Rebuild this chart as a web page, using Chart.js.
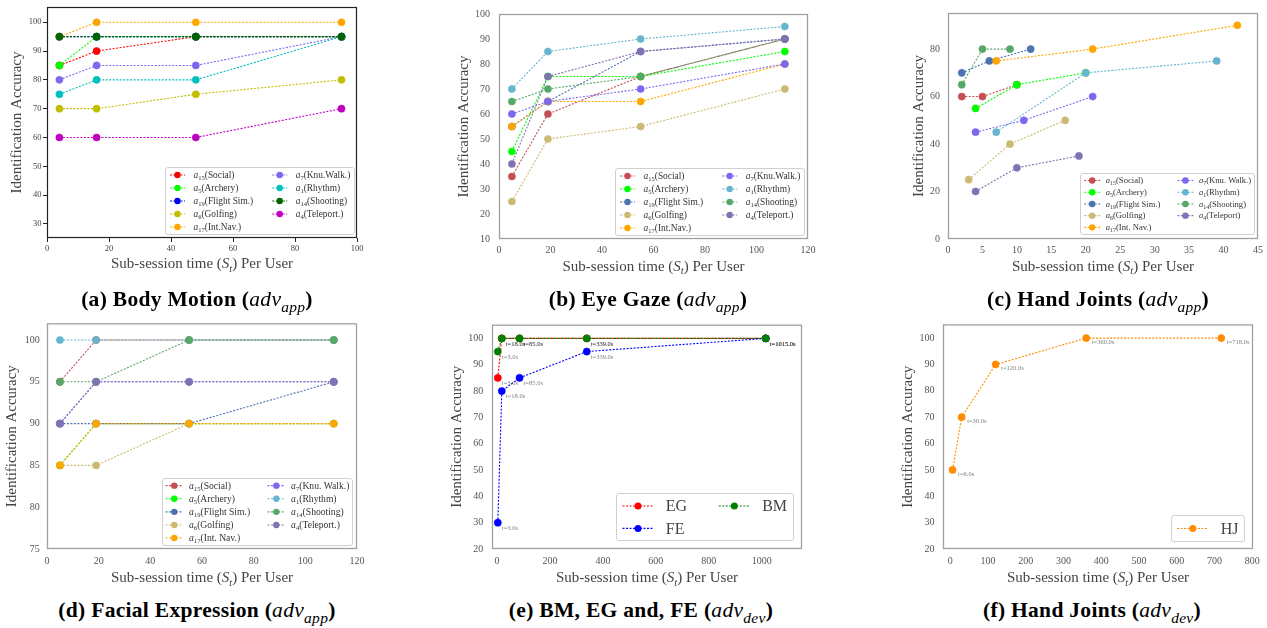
<!DOCTYPE html>
<html>
<head>
<meta charset="utf-8">
<script src="https://cdn.jsdelivr.net/npm/chart.js@4.4.1/dist/chart.umd.min.js"></script>
<style>
html,body{margin:0;padding:0;background:#fff;}
body{position:relative;width:1267px;height:628px;overflow:hidden;font-family:"Liberation Serif","DejaVu Serif",serif;}
canvas{position:absolute;}
.cap{position:absolute;transform:translate(-50%,-50%);white-space:nowrap;font-weight:bold;font-size:21.5px;letter-spacing:0.3px;line-height:1;color:#000;}
.cap i{font-weight:normal;}
.cap sub{font-size:0.72em;font-style:italic;font-weight:normal;vertical-align:-0.35em;line-height:0;}
</style>
</head>
<body>
<canvas id="ca"></canvas>
<canvas id="cb"></canvas>
<canvas id="cc"></canvas>
<canvas id="cd"></canvas>
<canvas id="ce"></canvas>
<canvas id="cf"></canvas>
<div class="cap" style="left:197px;top:300px">(a) Body Motion (<i>adv</i><sub>app</sub>)</div>
<div class="cap" style="left:648px;top:300px">(b) Eye Gaze (<i>adv</i><sub>app</sub>)</div>
<div class="cap" style="left:1098px;top:300px">(c) Hand Joints (<i>adv</i><sub>app</sub>)</div>
<div class="cap" style="left:197px;top:611px">(d) Facial Expression (<i>adv</i><sub>app</sub>)</div>
<div class="cap" style="left:641px;top:611px">(e) BM, EG and, FE (<i>adv</i><sub>dev</sub>)</div>
<div class="cap" style="left:1092px;top:611px">(f) Hand Joints (<i>adv</i><sub>dev</sub>)</div>
<script>
// ================= DATA =================
// (a) Body Motion (adv_app)
const aTimes = [4, 16, 48, 95];
const aSocial = [85, 90, 95, 95];
const aArchery = [85, 95, 95, 95];
const aFlight = [95, 95, 95, 95];
const aGolf = [70, 70, 75, 80];
const aIntNav = [95, 100, 100, 100];
const aKnuWalk = [80, 85, 85, 95];
const aRhythm = [75, 80, 80, 95];
const aShoot = [95, 95, 95, 95];
const aTeleport = [60, 60, 60, 70];
const aLabels = ["a_15(Social)", "a_5(Archery)", "a_19(Flight Sim.)", "a_6(Golfing)", "a_17(Int.Nav.)", "a_7(Knu.Walk.)", "a_1(Rhythm)", "a_14(Shooting)", "a_4(Teleport.)"];
const aXTicks = [0, 20, 40, 60, 80, 100];
const aYTicks = [30, 40, 50, 60, 70, 80, 90, 100];

// (b) Eye Gaze (adv_app)
const bTimes = [5, 19, 55, 111];
const bSocial = [35, 60, 75, 90];
const bArchery = [45, 75, 75, 85];
const bFlight = [55, 65, 85, 90];
const bGolf = [25, 50, 55, 70];
const bIntNav = [55, 65, 65, 80];
const bKnuWalk = [60, 65, 70, 80];
const bRhythm = [70, 85, 90, 95];
const bShoot = [65, 70, 75, 90];
const bTeleport = [40, 75, 85, 90];
const bLabels = ["a_15(Social)", "a_5(Archery)", "a_19(Flight Sim.)", "a_6(Golfing)", "a_17(Int.Nav.)", "a_7(Knu.Walk.)", "a_1(Rhythm)", "a_14(Shooting)", "a_4(Teleport.)"];
const bXTicks = [0, 20, 40, 60, 80, 100, 120];
const bYTicks = [10, 20, 30, 40, 50, 60, 70, 80, 90, 100];

// (c) Hand Joints (adv_app)
const cSocialX = [2, 5, 10],   cSocialY = [60, 60, 65];
const cArcheryX = [4, 10, 20], cArcheryY = [55, 65, 70];
const cFlightX = [2, 6, 12],   cFlightY = [70, 75, 80];
const cGolfX = [3, 9, 17],     cGolfY = [25, 40, 50];
const cIntNavX = [7, 21, 42],  cIntNavY = [75, 80, 90];
const cKnuWalkX = [4, 11, 21], cKnuWalkY = [45, 50, 60];
const cRhythmX = [7, 20, 39],  cRhythmY = [45, 70, 75];
const cShootX = [2, 5, 9],     cShootY = [65, 80, 80];
const cTeleportX = [4, 10, 19], cTeleportY = [20, 30, 35];
const cLabels = ["a_15(Social)", "a_5(Archery)", "a_19(Flight Sim.)", "a_6(Golfing)", "a_17(Int. Nav.)", "a_7(Knu. Walk.)", "a_1(Rhythm)", "a_14(Shooting)", "a_4(Teleport)"];
const cXTicks = [0, 5, 10, 15, 20, 25, 30, 35, 40, 45];
const cYTicks = [0, 20, 40, 60, 80];

// (d) Facial Expression (adv_app)
const dTimes = [5, 19, 55, 111];
const dSocial = [95, 100, 100, 100];
const dArchery = [85, 90, 90, 90];
const dFlight = [90, 90, 90, 95];
const dGolf = [85, 85, 90, 90];
const dIntNav = [85, 90, 90, 90];
const dKnuWalk = [90, 95, 95, 95];
const dRhythm = [100, 100, 100, 100];
const dShoot = [95, 95, 100, 100];
const dTeleport = [90, 95, 95, 95];
const dLabels = ["a_15(Social)", "a_5(Archery)", "a_19(Flight Sim.)", "a_6(Golfing)", "a_17(Int. Nav.)", "a_7(Knu. Walk.)", "a_1(Rhythm)", "a_14(Shooting)", "a_4(Teleport.)"];
const dXTicks = [0, 20, 40, 60, 80, 100, 120];
const dYTicks = [75, 80, 85, 90, 95, 100];

// (e) BM, EG and FE (adv_dev)
const eTimes = [3, 18, 85, 339, 1015];
const eEG = [85, 100, 100, 100, 100];
const eFE = [30, 80, 85, 95, 100];
const eBM = [95, 100, 100, 100, 100];
const eLabels = ["EG", "FE", "BM"];
const eXTicks = [0, 200, 400, 600, 800, 1000];
const eYTicks = [20, 30, 40, 50, 60, 70, 80, 90, 100];

// (f) Hand Joints (adv_dev)
const fTimes = [6, 30, 120, 360, 718];
const fHJ = [50, 70, 90, 100, 100];
const fLabels = ["HJ"];
const fXTicks = [0, 100, 200, 300, 400, 500, 600, 700, 800];
const fYTicks = [20, 30, 40, 50, 60, 70, 80, 90, 100];

// ================= STYLE =================
const FONT = '"Liberation Serif", "DejaVu Serif", serif';
const BASE_COLORS = ['#ff0000', '#00ff00', '#0000ff', '#bfbf00', '#ffa500', '#7b68ee', '#00bfbf', '#006400', '#bf00bf'];
const DEEP_COLORS = ['#c44e52', '#00ff00', '#4c72b0', '#ccb974', '#ffa500', '#7b68ee', '#64b5cd', '#55a868', '#8172b2'];
const E_COLORS = ['#ff0000', '#0000ff', '#008000'];
const F_COLORS = ['#ff8c00'];
Chart.defaults.font.family = FONT;

function series(xs, ys) { return xs.map((x, i) => ({ x: x, y: ys[i] })); }

function makeDatasets(labels, xsList, ysList, colors, pr) {
  return labels.map((lab, i) => ({
    label: lab,
    data: series(xsList[i], ysList[i]),
    borderColor: colors[i], backgroundColor: colors[i],
    pointBackgroundColor: colors[i], pointBorderColor: colors[i],
    borderWidth: 1.1, borderDash: [2, 1.5],
    pointRadius: pr, pointHoverRadius: pr, pointBorderWidth: 0.5,
    tension: 0, fill: false, order: -i
  }));
}

function richParts(label) {
  const m = /^([A-Za-z])_(\d+)(.*)$/.exec(label);
  if (!m) return [{ t: label }];
  return [{ t: m[1], it: true }, { t: m[2], sub: true }, { t: m[3] }];
}
function fontFor(p, size) {
  const s = p.sub ? size * 0.7 : size;
  return (p.it ? 'italic ' : '') + s + 'px ' + FONT;
}
function measureRich(ctx, parts, size) {
  let w = 0;
  parts.forEach(p => { ctx.font = fontFor(p, size); w += ctx.measureText(p.t).width; });
  return w;
}
function drawRich(ctx, parts, x, base, size) {
  ctx.textBaseline = 'alphabetic';
  ctx.textAlign = 'left';
  parts.forEach(p => {
    ctx.font = fontFor(p, size);
    ctx.fillText(p.t, x, base + (p.sub ? size * 0.22 : 0));
    x += ctx.measureText(p.t).width;
  });
}
const X_TITLE = [{ t: 'Sub-session time (' }, { t: 'S', it: true }, { t: 't', it: true, sub: true }, { t: ') Per User' }];
const Y_TITLE = 'Identification Accuracy';

function roundRect(ctx, x, y, w, h, r) {
  ctx.beginPath();
  ctx.moveTo(x + r, y); ctx.lineTo(x + w - r, y); ctx.arcTo(x + w, y, x + w, y + r, r);
  ctx.lineTo(x + w, y + h - r); ctx.arcTo(x + w, y + h, x + w - r, y + h, r);
  ctx.lineTo(x + r, y + h); ctx.arcTo(x, y + h, x, y + h - r, r);
  ctx.lineTo(x, y + r); ctx.arcTo(x, y, x + r, y, r);
  ctx.closePath();
}

function drawLegend(chart, L) {
  const ctx = chart.ctx, a = chart.chartArea, ds = chart.data.datasets;
  const n = ds.length, ncol = L.ncol, nrows = Math.ceil(n / ncol);
  const colW = [];
  for (let c = 0; c < ncol; c++) {
    let m = 0;
    for (let r = 0; r < nrows; r++) {
      const i = c * nrows + r;
      if (i < n) m = Math.max(m, measureRich(ctx, richParts(ds[i].label), L.fs));
    }
    colW.push(m);
  }
  const boxW = L.padX * 2 + colW.reduce((s, w) => s + L.hl + L.htp + w, 0) + L.cs * (ncol - 1);
  const boxH = nrows * L.rowH + L.padY * 2;
  const bx = Math.round(a.right - L.bapX - boxW) + 0.5, by = Math.round(a.bottom - L.bapY - boxH) + 0.5;
  ctx.save();
  roundRect(ctx, bx, by, Math.round(boxW), Math.round(boxH), 2.5);
  ctx.fillStyle = 'rgba(255,255,255,0.85)'; ctx.fill();
  ctx.strokeStyle = '#d0d0d0'; ctx.lineWidth = 1; ctx.stroke();
  let cx = bx + L.padX;
  for (let c = 0; c < ncol; c++) {
    for (let r = 0; r < nrows; r++) {
      const i = c * nrows + r;
      if (i >= n) continue;
      const y = by + L.padY + (r + 0.5) * L.rowH;
      ctx.strokeStyle = ds[i].borderColor; ctx.lineWidth = ds[i].borderWidth;
      ctx.setLineDash(ds[i].borderDash);
      ctx.beginPath(); ctx.moveTo(cx, y); ctx.lineTo(cx + L.hl, y); ctx.stroke();
      ctx.setLineDash([]);
      ctx.beginPath(); ctx.arc(cx + L.hl / 2, y, L.mr, 0, 2 * Math.PI);
      ctx.fillStyle = ds[i].pointBackgroundColor; ctx.fill();
      ctx.fillStyle = L.color;
      drawRich(ctx, richParts(ds[i].label), cx + L.hl + L.htp, y + L.fs * 0.33, L.fs);
    }
    cx += L.hl + L.htp + colW[c] + L.cs;
  }
  ctx.restore();
}

const panelPlugin = {
  id: 'panel',
  afterDatasetsDraw(chart, args, o) {
    const ctx = chart.ctx, a = chart.chartArea;
    ctx.save();
    // frame
    ctx.strokeStyle = o.frameColor; ctx.lineWidth = o.frameWidth;
    ctx.strokeRect(a.left + 0.5, a.top + 0.5, a.right - a.left - 1, a.bottom - a.top - 1);
    // point annotations
    if (o.annot) {
      ctx.font = o.annot.size + 'px ' + FONT;
      ctx.fillStyle = o.annot.color;
      ctx.textAlign = 'left'; ctx.textBaseline = 'middle';
      chart.data.datasets.forEach((ds, i) => {
        const meta = chart.getDatasetMeta(i);
        meta.data.forEach((pt, j) => {
          ctx.fillText('t=' + ds.data[j].x.toFixed(1) + 's', pt.x + o.annot.dx, pt.y + o.annot.dy);
        });
      });
    }
    // axis titles
    ctx.fillStyle = o.titleColor;
    ctx.font = o.titleSize + 'px ' + FONT;
    ctx.save();
    ctx.translate(a.left - o.yTitleOff, (a.top + a.bottom) / 2);
    ctx.rotate(-Math.PI / 2);
    ctx.textAlign = 'center'; ctx.textBaseline = 'middle';
    ctx.fillText(Y_TITLE, 0, 0);
    ctx.restore();
    const w = measureRich(ctx, X_TITLE, o.titleSize);
    drawRich(ctx, X_TITLE, (a.left + a.right) / 2 - w / 2, a.bottom + o.xTitleOff + o.titleSize * 0.33, o.titleSize);
    ctx.restore();
  },
  afterDraw(chart, args, o) {
    if (o.legend) drawLegend(chart, o.legend);
  }
};

function makePanel(id, cfg) {
  const padL = 48, padT = 8, padR = 16, axH = 44;
  const W = cfg.R - cfg.L, H = cfg.B - cfg.T;
  const cv = document.getElementById(id);
  cv.width = W + padL + padR; cv.height = H + padT + axH;
  cv.style.width = cv.width + 'px'; cv.style.height = cv.height + 'px';
  cv.style.left = (cfg.L - padL) + 'px'; cv.style.top = (cfg.T - padT) + 'px';
  const gridOn = cfg.ticksMarks;
  const grid = gridOn
    ? { display: true, drawOnChartArea: false, drawTicks: true, tickLength: 4, color: '#222', lineWidth: 1 }
    : { display: false, drawTicks: false };
  new Chart(cv, {
    type: 'line',
    data: { datasets: cfg.datasets },
    options: {
      responsive: false, animation: false, devicePixelRatio: 1,
      events: [],
      layout: { padding: { left: 0, top: padT, right: padR, bottom: 0 } },
      plugins: { legend: { display: false }, tooltip: { enabled: false }, panel: cfg.panel },
      scales: {
        x: {
          type: 'linear', min: cfg.xMin, max: cfg.xMax,
          afterFit: s => { s.height = axH; },
          afterBuildTicks: s => { s.ticks = cfg.xTicks.map(v => ({ value: v })); },
          ticks: { font: { size: cfg.tickSize, family: FONT }, color: cfg.tickColor, padding: cfg.xPad, maxRotation: 0, autoSkip: false, callback: v => String(v) },
          grid: grid, border: { display: false }
        },
        y: {
          type: 'linear', min: cfg.yMin, max: cfg.yMax,
          afterFit: s => { s.width = padL; },
          afterBuildTicks: s => { s.ticks = cfg.yTicks.map(v => ({ value: v })); },
          ticks: { font: { size: cfg.tickSize, family: FONT }, color: cfg.tickColor, padding: cfg.yPad, autoSkip: false, callback: v => String(v) },
          grid: grid, border: { display: false }
        }
      }
    },
    plugins: [panelPlugin]
  });
}

const smallLegend = (o) => Object.assign({ ncol: 2, fs: 9.4, rowH: 13, padX: 4.5, padY: 1, hl: 15, htp: 8.5, cs: 19, bapX: 3.5, bapY: 4, mr: 3.2, color: '#333' }, o);

// (a)
makePanel('ca', {
  L: 47, R: 357, T: 7, B: 238, xMin: 0, xMax: 100, yMin: 25.1, yMax: 105.3,
  xTicks: aXTicks, yTicks: aYTicks, tickSize: 8.5, tickColor: '#444', xPad: 1.5, yPad: 1.5, ticksMarks: true,
  datasets: makeDatasets(aLabels, Array(9).fill(aTimes),
    [aSocial, aArchery, aFlight, aGolf, aIntNav, aKnuWalk, aRhythm, aShoot, aTeleport], BASE_COLORS, 3.6),
  panel: { frameColor: '#222', frameWidth: 1.2, titleColor: '#444', titleSize: 15, yTitleOff: 29.5, xTitleOff: 25.3,
    legend: smallLegend({ bapX: 3, bapY: 4 }) }
});
// (b)
makePanel('cb', {
  L: 499, R: 808, T: 7, B: 239, xMin: 0, xMax: 120, yMin: 10, yMax: 100,
  xTicks: bXTicks, yTicks: bYTicks, tickSize: 10, tickColor: '#555', xPad: 5.3, yPad: 9, ticksMarks: false,
  datasets: makeDatasets(bLabels, Array(9).fill(bTimes),
    [bSocial, bArchery, bFlight, bGolf, bIntNav, bKnuWalk, bRhythm, bShoot, bTeleport], DEEP_COLORS, 3.6),
  panel: { frameColor: '#a0a0a0', frameWidth: 1.3, titleColor: '#444', titleSize: 15, yTitleOff: 35, xTitleOff: 27,
    legend: smallLegend({ bapX: 4, bapY: 4.5 }) }
});
// (c)
makePanel('cc', {
  L: 948, R: 1258, T: 7, B: 239, xMin: 0, xMax: 45, yMin: 0, yMax: 95.2,
  xTicks: cXTicks, yTicks: cYTicks, tickSize: 10, tickColor: '#555', xPad: 5.3, yPad: 8, ticksMarks: false,
  datasets: makeDatasets(cLabels,
    [cSocialX, cArcheryX, cFlightX, cGolfX, cIntNavX, cKnuWalkX, cRhythmX, cShootX, cTeleportX],
    [cSocialY, cArcheryY, cFlightY, cGolfY, cIntNavY, cKnuWalkY, cRhythmY, cShootY, cTeleportY], DEEP_COLORS, 3.6),
  panel: { frameColor: '#a0a0a0', frameWidth: 1.3, titleColor: '#444', titleSize: 15, yTitleOff: 29, xTitleOff: 27,
    legend: smallLegend({ fs: 8.6, rowH: 11.7, padX: 3.7, padY: 1.2, hl: 16, htp: 5.5, cs: 17, bapX: 4, bapY: 5 }) }
});
// (d)
makePanel('cd', {
  L: 47, R: 357, T: 318, B: 549, xMin: 0, xMax: 120, yMin: 75, yMax: 102,
  xTicks: dXTicks, yTicks: dYTicks, tickSize: 10, tickColor: '#555', xPad: 6.7, yPad: 7.3, ticksMarks: false,
  datasets: makeDatasets(dLabels, Array(9).fill(dTimes),
    [dSocial, dArchery, dFlight, dGolf, dIntNav, dKnuWalk, dRhythm, dShoot, dTeleport], DEEP_COLORS, 3.6),
  panel: { frameColor: '#a0a0a0', frameWidth: 1.3, titleColor: '#444', titleSize: 15, yTitleOff: 34.5, xTitleOff: 28.5,
    legend: smallLegend({ fs: 9.6, padX: 3, padY: 0.6, rowH: 13.1, hl: 17.5, htp: 6, cs: 17.5, bapX: 5, bapY: 4.7 }) }
});
// (e)
makePanel('ce', {
  L: 492, R: 802, T: 318, B: 549, xMin: -19, xMax: 1152, yMin: 20, yMax: 105.2,
  xTicks: eXTicks, yTicks: eYTicks, tickSize: 10, tickColor: '#555', xPad: 6.7, yPad: 8.7, ticksMarks: false,
  datasets: makeDatasets(eLabels, [eTimes, eTimes, eTimes], [eEG, eFE, eBM], E_COLORS, 3.6),
  panel: { frameColor: '#a0a0a0', frameWidth: 1.3, titleColor: '#444', titleSize: 15, yTitleOff: 34.5, xTitleOff: 28.5,
    annot: { size: 6.5, color: 'rgba(70,70,70,0.7)', dx: 4, dy: 5.5 },
    legend: { ncol: 2, fs: 16, rowH: 22.4, padX: 6, padY: 1.3, hl: 31, htp: 12.3, cs: 31.7, bapX: 9, bapY: 8.3, mr: 3.5, color: '#444' } }
});
// (f)
makePanel('cf', {
  L: 943, R: 1253, T: 318, B: 549, xMin: -19.4, xMax: 802, yMin: 20, yMax: 105.2,
  xTicks: fXTicks, yTicks: fYTicks, tickSize: 10, tickColor: '#555', xPad: 6.7, yPad: 8.4, ticksMarks: false,
  datasets: makeDatasets(fLabels, [fTimes], [fHJ], F_COLORS, 3.6),
  panel: { frameColor: '#a0a0a0', frameWidth: 1.3, titleColor: '#444', titleSize: 15, yTitleOff: 35, xTitleOff: 28.5,
    annot: { size: 6.5, color: 'rgba(70,70,70,0.7)', dx: 5.5, dy: 4 },
    legend: { ncol: 1, fs: 16, rowH: 22.4, padX: 5.5, padY: 1.8, hl: 31.5, htp: 12.3, cs: 0, bapX: 9, bapY: 8, mr: 3.5, color: '#444' } }
});
</script>
</body>
</html>
